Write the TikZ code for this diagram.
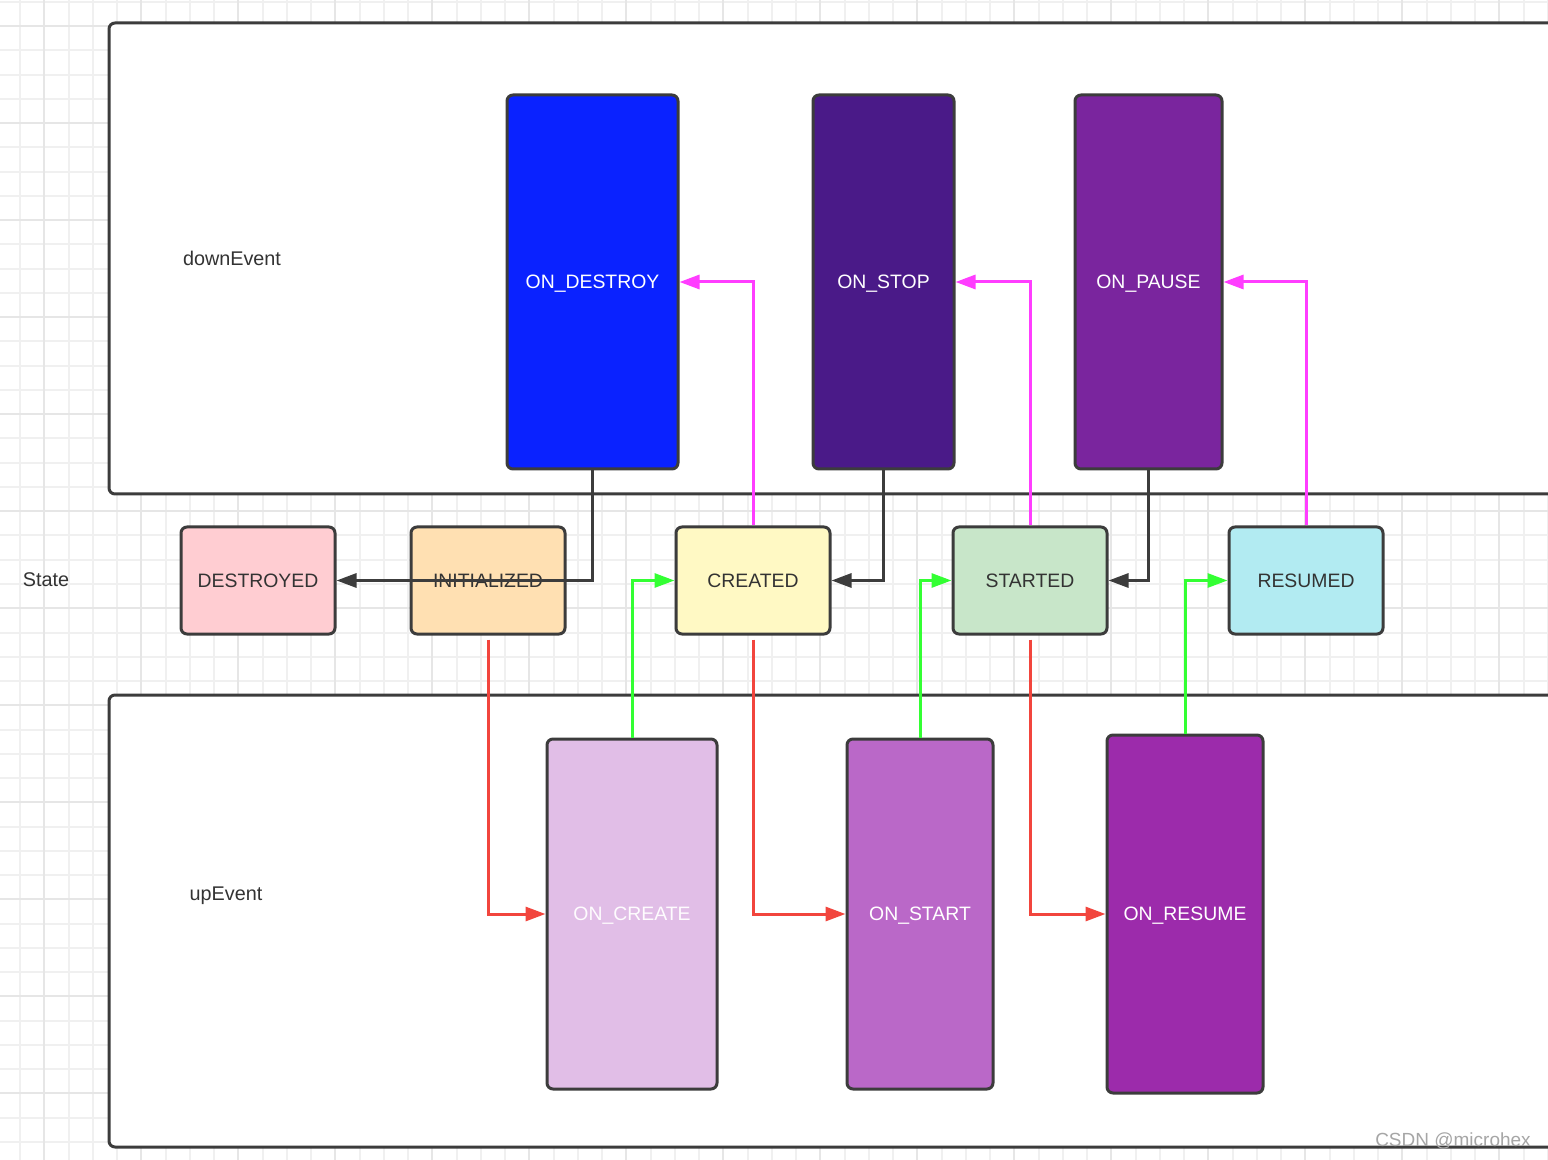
\documentclass[tikz,border=0pt]{standalone}
\usepackage{fontspec}
\setmainfont{Liberation Sans}
\usetikzlibrary{arrows.meta}
\definecolor{bordc}{HTML}{3C3C3C}
\definecolor{txtc}{HTML}{333333}
\definecolor{gridminor}{HTML}{F0F0F0}
\definecolor{gridmajor}{HTML}{E6E6E6}
\definecolor{cdestroy}{HTML}{0A22FF}
\definecolor{cstop}{HTML}{4A1A88}
\definecolor{cpause}{HTML}{7A259E}
\definecolor{ccreate}{HTML}{E1BEE7}
\definecolor{cstart}{HTML}{BA68C8}
\definecolor{cresume}{HTML}{9C2BAB}
\definecolor{sdestroyed}{HTML}{FFCDD2}
\definecolor{sinit}{HTML}{FFE0B2}
\definecolor{screated}{HTML}{FFF9C4}
\definecolor{sstarted}{HTML}{C8E6C9}
\definecolor{sresumed}{HTML}{B2EBF2}
\definecolor{cmag}{HTML}{FF3DFF}
\definecolor{cgreen}{HTML}{33FF33}
\definecolor{cred}{HTML}{F2453D}
\tikzset{
  box/.style={draw=bordc, line width=1.5pt, rounded corners=3pt, inner sep=0pt,
    font=\fontsize{9.7}{11}\selectfont, text depth=0pt},
  evbox/.style={box, text=white},
  stbox/.style={box, text=txtc, minimum width=77pt, minimum height=53.5pt},
  container/.style={draw=bordc, line width=1.5pt, rounded corners=3pt},
  lbl/.style={text=txtc, font=\fontsize{9.9}{11}\selectfont, text depth=0pt},
  conn/.style={line width=1.5pt, -{Triangle[length=10pt,width=7pt]}},
  blk/.style={conn, draw=bordc},
  magc/.style={conn, draw=cmag},
  grnc/.style={conn, draw=cgreen},
  redc/.style={conn, draw=cred, shorten <=2pt},
}
\begin{document}
\begin{tikzpicture}[x=0.5pt,y=-0.5pt]
\useasboundingbox (0,0) rectangle (1548,1160);
\clip (0,0) rectangle (1548,1160);
\fill[white] (0,0) rectangle (1548,1160);
% grid
\foreach \i in {0,...,63} {
  \draw[gridminor, line width=1pt] ({20.2+24.25*\i},0) -- ({20.2+24.25*\i},1160);
}
\foreach \j in {0,...,48} {
  \draw[gridminor, line width=1pt] (0,{2+24.25*\j}) -- (1548,{2+24.25*\j});
}
\foreach \i in {0,...,15} {
  \draw[gridmajor, line width=1pt] ({44.4+97*\i},0) -- ({44.4+97*\i},1160);
}
\foreach \j in {0,...,11} {
  \draw[gridmajor, line width=1pt] (0,{26.2+97*\j}) -- (1548,{26.2+97*\j});
}
% containers
\draw[container, fill=white] (109,23) rectangle (1620,494);
\draw[container, fill=white] (109,695) rectangle (1620,1147);
% labels
\node[lbl] (ldown) at (232,258) {downEvent};
\node[lbl] (lstate) at (46,580) {State};
\node[lbl] (lup) at (226,894) {upEvent};
% down events
\node[evbox, fill=cdestroy, minimum width=85.5pt, minimum height=187pt] (ondestroy) at (592.5,282) {ON\_DESTROY};
\node[evbox, fill=cstop, minimum width=70.5pt, minimum height=187pt] (onstop) at (883.5,282) {ON\_STOP};
\node[evbox, fill=cpause, minimum width=73.5pt, minimum height=187pt] (onpause) at (1148.5,282) {ON\_PAUSE};
% states
\node[stbox, fill=sdestroyed] (destroyed) at (258,580.5) {DESTROYED};
\node[stbox, fill=sinit] (initialized) at (488,580.5) {INITIALIZED};
\node[stbox, fill=screated] (created) at (753,580.5) {CREATED};
\node[stbox, fill=sstarted] (started) at (1030,580.5) {STARTED};
\node[stbox, fill=sresumed] (resumed) at (1306,580.5) {RESUMED};
% up events
\node[evbox, fill=ccreate, text=white!96!ccreate, minimum width=85pt, minimum height=175pt] (oncreate) at (632,914) {ON\_CREATE};
\node[evbox, fill=cstart, minimum width=73pt, minimum height=175pt] (onstart) at (920,914) {ON\_START};
\node[evbox, fill=cresume, minimum width=78pt, minimum height=179pt] (onresume) at (1185,914) {ON\_RESUME};
% black connectors (down event -> lower state)
\draw[blk] (ondestroy.south) |- (destroyed.east);
\draw[blk] (onstop.south) |- (created.east);
\draw[blk] (onpause.south) |- (started.east);
% magenta (state -> down event)
\draw[magc] (created.north) |- (ondestroy.east);
\draw[magc] (started.north) |- (onstop.east);
\draw[magc] (resumed.north) |- (onpause.east);
% green (up event -> state)
\draw[grnc] (oncreate.north) |- (created.west);
\draw[grnc] (onstart.north) |- (started.west);
\draw[grnc] (onresume.north) |- (resumed.west);
% red (state -> up event)
\draw[redc] (initialized.south) |- (oncreate.west);
\draw[redc] (created.south) |- (onstart.west);
\draw[redc] (started.south) |- (onresume.west);
% watermark
\node[text=gray!70, font=\fontsize{9.5}{10}\selectfont] (wm) at (1453,1141) {CSDN @microhex};
\end{tikzpicture}
\end{document}
